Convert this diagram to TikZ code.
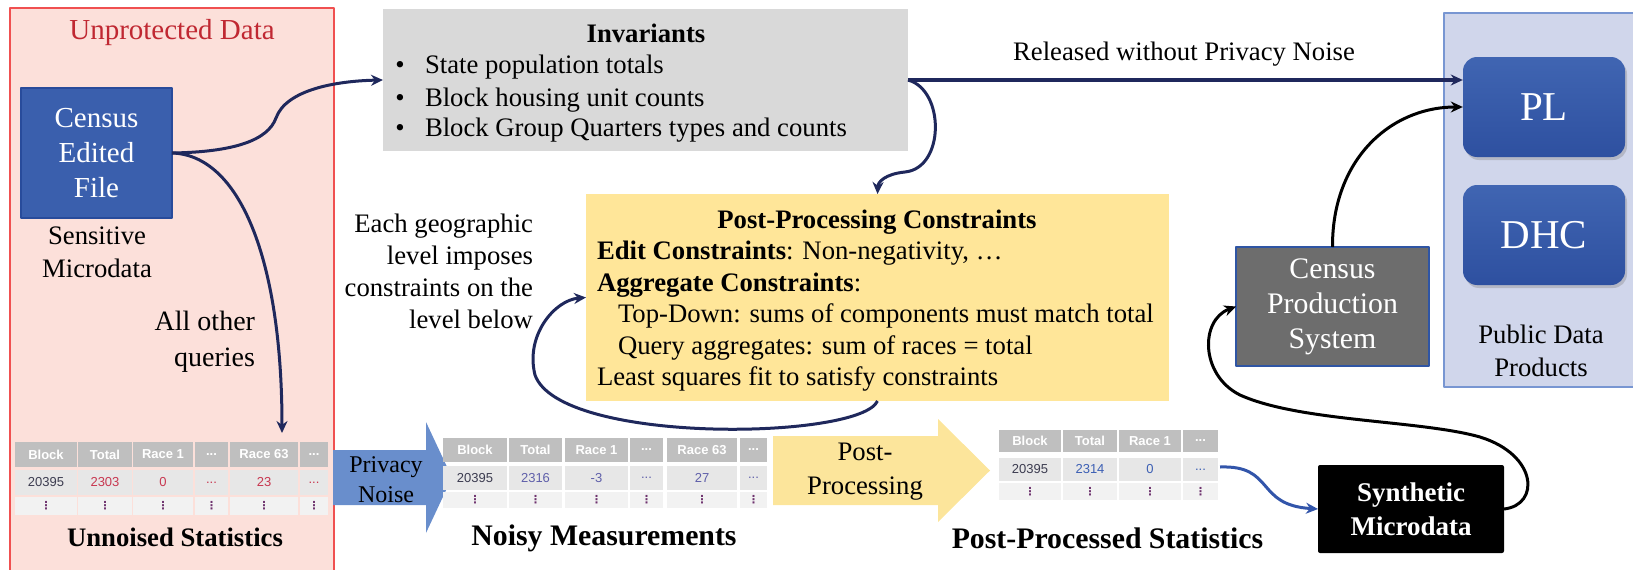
\documentclass[tikz,border=0pt]{standalone}
\usepackage{fontspec}
\setmainfont{Liberation Serif}
\newfontfamily\tabfont{Liberation Sans}
\newfontfamily\dvfont{DejaVu Sans}
\usetikzlibrary{arrows.meta,shadows}
\definecolor{cNavy}{RGB}{31,40,92}
\definecolor{cRedFill}{RGB}{252,224,218}
\definecolor{cRedLine}{RGB}{240,80,80}
\definecolor{cRedText}{RGB}{192,40,50}
\definecolor{cFile}{RGB}{58,95,173}
\definecolor{cFileLine}{RGB}{40,75,155}
\definecolor{cGray}{RGB}{217,217,217}
\definecolor{cYellow}{RGB}{255,230,153}
\definecolor{cPostArrow}{RGB}{252,229,155}
\definecolor{cPrivArrow}{RGB}{105,142,204}
\definecolor{cPub}{RGB}{208,214,235}
\definecolor{cPubLine}{RGB}{120,150,210}
\definecolor{cPLtop}{RGB}{64,101,178}
\definecolor{cPLbot}{RGB}{46,80,160}
\definecolor{cCPS}{RGB}{109,109,109}
\definecolor{cCPSLine}{RGB}{47,85,164}
\definecolor{cBlueArr}{RGB}{50,85,170}
\definecolor{cHead}{RGB}{191,191,191}
\definecolor{cRowA}{RGB}{231,231,231}
\definecolor{cRowB}{RGB}{242,242,242}
\definecolor{cValDark}{RGB}{60,60,80}
\definecolor{cValRed}{RGB}{200,55,80}
\definecolor{cValPurp}{RGB}{95,95,170}
\definecolor{cValBlue}{RGB}{60,95,180}
\definecolor{cDots}{RGB}{110,50,110}
\newcommand{\fsz}[2]{\fontsize{#1}{#2}\selectfont}
\newcommand{\tdd}{...}
\tikzset{
  txt/.style={inner sep=0pt, outer sep=0pt, align=center},
  bodytxt/.style={txt, font=\fsz{26.7}{32}},
  navyarr/.style={draw=cNavy, line width=3pt, -{Stealth[length=12pt,width=11pt]}},
  blackarr/.style={draw=black, line width=3pt, -{Stealth[length=12pt,width=11pt]}},
  bluearr/.style={draw=cBlueArr, line width=3pt, -{Stealth[length=12pt,width=11pt]}},
  pbox/.style={rounded corners=14pt, top color=cPLtop, bottom color=cPLbot, draw=none,
    minimum width=162pt, minimum height=100pt, inner sep=0pt, text=white,
    font=\fsz{41}{41}, drop shadow={shadow xshift=2pt, shadow yshift=-3pt, opacity=0.35}},
  tabhead/.style={inner sep=0pt, font=\tabfont\bfseries\fsz{13}{13}, text=white},
  tabval/.style={inner sep=0pt, font=\tabfont\fsz{13}{13}},
  tabdots/.style={inner sep=0pt, font=\dvfont\bfseries\fsz{11}{11}, text=cDots},
  plainbox/.style={inner sep=0pt, outer sep=0pt},
  captxt/.style={txt, font=\bfseries\fsz{29.8}{32}},
}
\begin{document}
\begin{tikzpicture}[x=1pt, y=-1pt, line join=round]
\useasboundingbox (0,0) rectangle (1633,570);

% ---------- left region ----------
\path[fill=cRedFill, draw=cRedLine, line width=1.5pt] (10,8) rectangle (334,590);
\node[bodytxt, font=\fsz{29}{35}, text=cRedText] (unprot) at (172,33) {Unprotected Data};
\node[plainbox, draw=cFileLine, fill=cFile, line width=1.5pt, minimum width=151pt, minimum height=130pt,
      text=white, align=center, font=\fsz{29}{35}] (cef) at (96.5,153) {Census\\Edited\\File};
\node[bodytxt, font=\fsz{26.7}{33}] (sens) at (97,252) {Sensitive\\Microdata};
\node[txt, align=right, anchor=east, font=\fsz{28}{36}] (allq) at (255,342) {All other\\queries};

% table 1
\foreach \xa/\xb/\hh/\vv/\cc [count=\i] in {15/77/Block/20395/cValDark, 78/132/Total/2303/cValRed, 133/193/Race 1/0/cValRed, 195/228/\tdd/\tdd/cValRed, 230/298/Race 63/23/cValRed, 300/328/\tdd/\tdd/cValRed}{
  \fill[cHead] (\xa,442) rectangle (\xb,467);
  \node[tabhead] (ta\i) at ({(\xa+\xb)/2},454.5) {\hh};
  \fill[cRowA] (\xa,470) rectangle (\xb,495);
  \node[tabval, text=\cc] (tav\i) at ({(\xa+\xb)/2},482.5) {\vv};
  \fill[cRowB] (\xa,497) rectangle (\xb,515);
  \node[tabdots] (tad\i) at ({(\xa+\xb)/2},506) {⋮};
}
\node[txt, font=\bfseries\fsz{26.7}{32}] (unnoised) at (175,537) {Unnoised Statistics};

% privacy noise arrow
\fill[cPrivArrow] (333,450) -- (426,450) -- (426,422) -- (452,477.5) -- (426,533) -- (426,505) -- (333,505) -- cycle;
\node[bodytxt, font=\fsz{24}{30}] (privn) at (386,480) {Privacy\\Noise};

% table 2
\foreach \xa/\xb/\hh/\vv/\cc [count=\i] in {443/507/Block/20395/cValDark, 509/562/Total/2316/cValPurp, 565/628/Race 1/-3/cValPurp, 630/663/\tdd/\tdd/cValPurp, 667/737/Race 63/27/cValPurp, 740/767/\tdd/\tdd/cValPurp}{
  \fill[cHead] (\xa,438) rectangle (\xb,462);
  \node[tabhead] (tb\i) at ({(\xa+\xb)/2},450) {\hh};
  \fill[cRowA] (\xa,466) rectangle (\xb,490);
  \node[tabval, text=\cc] (tbv\i) at ({(\xa+\xb)/2},478) {\vv};
  \fill[cRowB] (\xa,492) rectangle (\xb,508);
  \node[tabdots] (tbd\i) at ({(\xa+\xb)/2},500) {⋮};
}
\node[captxt] (noisy) at (604,538) {Noisy Measurements};

% post-processing arrow
\fill[cPostArrow] (773,436) -- (938,436) -- (938,419) -- (990,470.5) -- (938,522) -- (938,505) -- (773,505) -- cycle;
\node[bodytxt, font=\fsz{26.7}{34}] (postp) at (865,472) {Post-\\Processing};

% table 3
\foreach \xa/\xb/\hh/\vv/\cc [count=\i] in {999/1061/Block/20395/cValDark, 1063/1117/Total/2314/cValBlue, 1119/1181/Race 1/0/cValBlue, 1183/1218/\tdd/\tdd/cValBlue}{
  \fill[cHead] (\xa,430) rectangle (\xb,452);
  \node[tabhead] (tc\i) at ({(\xa+\xb)/2},441) {\hh};
  \fill[cRowA] (\xa,458) rectangle (\xb,481);
  \node[tabval, text=\cc] (tcv\i) at ({(\xa+\xb)/2},469.5) {\vv};
  \fill[cRowB] (\xa,483) rectangle (\xb,500);
  \node[tabdots] (tcd\i) at ({(\xa+\xb)/2},491.5) {⋮};
}
\node[captxt] (ppstats) at (1107.5,538) {Post-Processed Statistics};

% ---------- invariants ----------
\node[plainbox, fill=cGray, minimum width=525pt, minimum height=142pt] (inv) at (645.5,80) {};
\node[bodytxt, font=\bfseries\fsz{26.7}{32}] (invt) at (646,33) {Invariants};
\node[txt, anchor=base, font=\fsz{26.7}{32}] (b1) at (400,73) {\textbullet};
\node[txt, anchor=base west, font=\fsz{26.7}{32}] (i1) at (425,73) {State population totals};
\node[txt, anchor=base, font=\fsz{26.7}{32}] (b2) at (400,106) {\textbullet};
\node[txt, anchor=base west, font=\fsz{26.7}{32}] (i2) at (425,106) {Block housing unit counts};
\node[txt, anchor=base, font=\fsz{26.7}{32}] (b3) at (400,136) {\textbullet};
\node[txt, anchor=base west, font=\fsz{26.7}{32}] (i3) at (425,136) {Block Group Quarters types and counts};

% ---------- post-processing constraints ----------
\node[plainbox, fill=cYellow, minimum width=583pt, minimum height=207pt] (ppc) at (877.5,297.5) {};
\node[txt, anchor=base, font=\bfseries\fsz{26.7}{32}] (ppct) at (877,228) {Post-Processing Constraints};
\node[txt, anchor=base west, font=\fsz{26.7}{32}] (c1) at (597,259.5) {\textbf{Edit Constraints}: Non-negativity, …};
\node[txt, anchor=base west, font=\fsz{26.7}{32}] (c2) at (597,291) {\textbf{Aggregate Constraints}:};
\node[txt, anchor=base west, font=\fsz{26.7}{32}] (c3) at (618,322.5) {Top-Down: sums of components must match total};
\node[txt, anchor=base west, font=\fsz{26.7}{32}] (c4) at (618,354) {Query aggregates: sum of races = total};
\node[txt, anchor=base west, font=\fsz{26.7}{32}] (c5) at (597,385.5) {Least squares fit to satisfy constraints};

\node[txt, align=right, anchor=east, font=\fsz{26.7}{32}] (each) at (533,271) {Each geographic\\level imposes\\constraints on the\\level below};

\node[bodytxt] (rel) at (1184,54) {Released without Privacy Noise};

% ---------- right region ----------
\path[fill=cPub, draw=cPubLine, line width=1.5pt] (1444,13) rectangle (1650,387);
\node[pbox] (pl) at (1544,107) {PL};
\node[pbox] (dhc) at (1544,235) {DHC};
\node[bodytxt, font=\fsz{26.7}{33}] (pub) at (1541,351) {Public Data\\Products};
\node[plainbox, fill=cCPS, draw=cCPSLine, line width=2.5pt, minimum width=193pt, minimum height=119pt,
      text=white, align=center, font=\fsz{29.8}{35}] (cps) at (1332.5,306.5) {Census\\Production\\System};
\node[plainbox, fill=black, rounded corners=2pt, minimum width=186pt, minimum height=88pt,
      text=white, align=center, font=\bfseries\fsz{27}{34}] (sm) at (1411,509) {Synthetic\\Microdata};

% ---------- connectors ----------
\coordinate (q63) at (282,433);
\coordinate (t3end) at (1220,467);
\draw[navyarr] (cef.east) .. controls (235,152) and (268,140) .. (276,118) .. controls (286,90) and (335,81) .. (inv.west);
\draw[navyarr] (cef.east) .. controls (240,155) and (282,260) .. (q63);
\draw[navyarr, line width=3.5pt] (inv.east) -- (inv.east -| pl.west);
\draw[navyarr] (inv.east) .. controls (945,90) and (945,168) .. (905,172) .. controls (885,174) and (878,182) .. (ppc.north);
\draw[navyarr] (ppc.south) .. controls (860,440) and (560,445) .. (535,375) .. controls (525,335) and (555,300) .. (ppc.west);
\draw[blackarr] (cps.north) .. controls (1332,160) and (1390,107) .. (pl.west);
\draw[bluearr] (t3end) .. controls (1275,465) and (1255,505) .. (sm.west);
\draw[blackarr] (sm.east) .. controls (1540,505) and (1538,455) .. (1480,437) .. controls (1420,420) and (1300,422) .. (1240,395) .. controls (1200,375) and (1200,320) .. (cps.west);
\end{tikzpicture}
\end{document}
